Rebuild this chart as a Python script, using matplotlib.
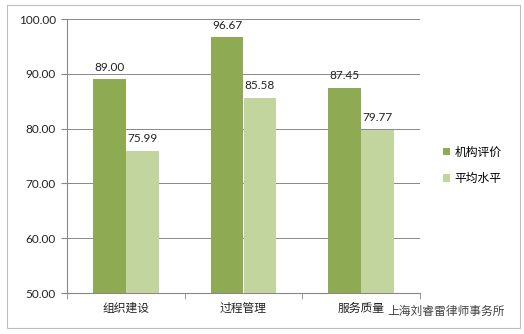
import matplotlib
matplotlib.use("Agg")
import matplotlib.pyplot as plt
import numpy as np
from matplotlib.patches import Rectangle

categories = ["组织建设", "过程管理", "服务质量"]
series_names = ["机构评价", "平均水平"]
org_values = [89.00, 96.67, 87.45]
avg_values = [75.99, 85.58, 79.77]
yticks = [50, 60, 70, 80, 90, 100]

plt.rcParams['font.family'] = ['Lato', 'Noto Sans CJK SC', 'DejaVu Sans']

c_dark = "#8eaa52"
c_light = "#c3d59f"
txt = "#222222"

fig = plt.figure(figsize=(5.24, 3.34), dpi=100)
fig.patches.append(Rectangle((7/524, 1-328/334), (520-7)/524, (328-5)/334,
                             transform=fig.transFigure, fill=False,
                             edgecolor="#bdbdbd", lw=0.8))
ax = fig.add_axes([67/524, 1-293/334, (420-67)/524, (293-19)/334])

x = np.arange(len(categories))
w = 0.28
b1 = ax.bar(x - w/2, [v - 50 for v in org_values], w, bottom=50, color=c_dark, label=series_names[0], zorder=3)
b2 = ax.bar(x + w/2, [v - 50 for v in avg_values], w, bottom=50, color=c_light, label=series_names[1], zorder=3)
for xi, v in zip(x - w/2, org_values):
    ax.text(xi, v + 1.2, f"{v:.2f}", ha="center", va="bottom", fontsize=8.5, color=txt)
for xi, v in zip(x + w/2, avg_values):
    ax.text(xi, v + 1.2, f"{v:.2f}", ha="center", va="bottom", fontsize=8.5, color=txt)

ax.set_xlim(-0.5, len(categories) - 0.5)
ax.set_ylim(50, 100)
ax.set_yticks(yticks)
ax.set_yticklabels([f"{t:.2f}" for t in yticks], fontsize=8.5, color=txt)
ax.yaxis.grid(True, color="#888888", lw=0.7, zorder=0)
ax.set_xticks(x)
ax.set_xticklabels(categories, fontsize=8.5, color=txt)
ax.set_xticks(np.arange(-0.5, len(categories), 1.0), minor=True)
ax.tick_params(axis="x", which="major", length=0, pad=7)
ax.tick_params(axis="x", which="minor", length=4, color="#888888")
ax.tick_params(axis="y", length=4, color="#888888", pad=4)
for s in ["top", "right"]:
    ax.spines[s].set_visible(False)
for s in ["left", "bottom"]:
    ax.spines[s].set_color("#888888")
    ax.spines[s].set_linewidth(0.8)

leg = fig.legend(handles=[b1, b2], labels=series_names, loc="upper left",
                 bbox_to_anchor=(432/524, 1-136/334), frameon=False,
                 fontsize=8.5, handlelength=0.6, handleheight=0.6,
                 handletextpad=0.4, labelspacing=1.3)

fig.text(387/524, 1-311/334, "上海刘睿雷律师事务所", fontsize=8.5, color="#444444",
         va="center", ha="left")

fig.savefig("out.png", dpi=100)
